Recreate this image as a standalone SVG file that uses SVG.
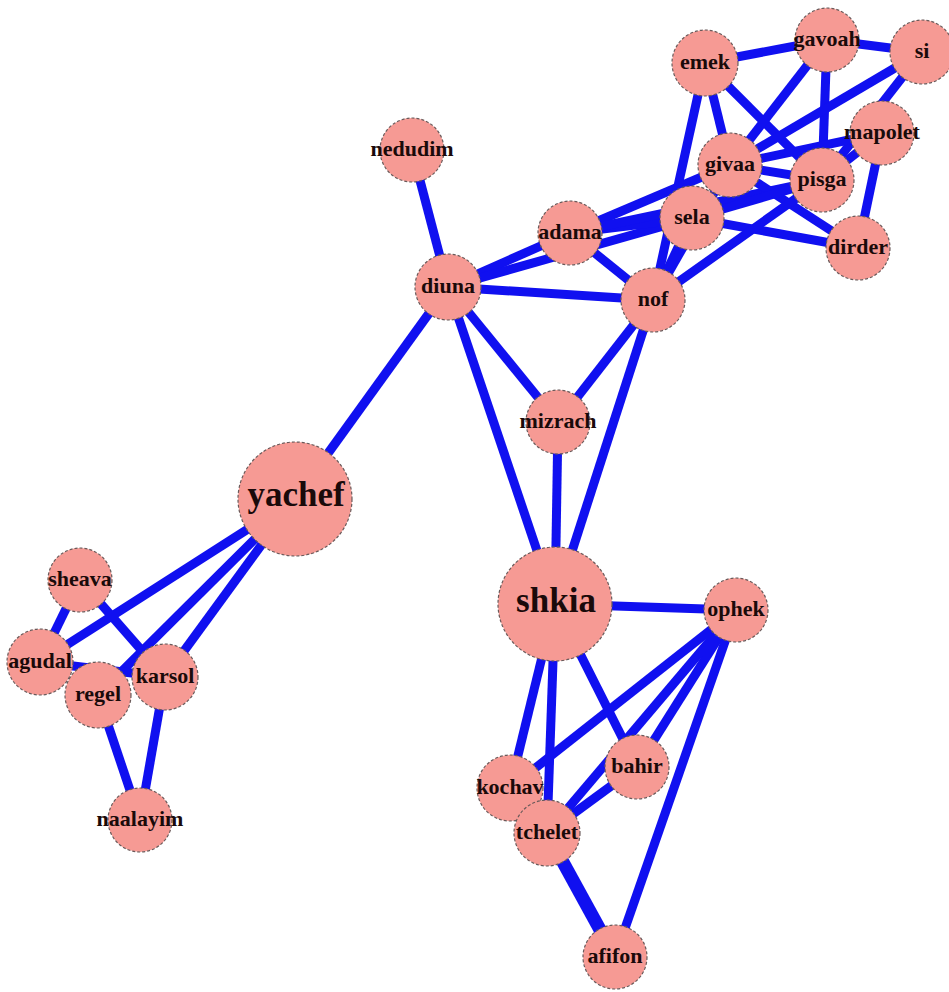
<svg xmlns="http://www.w3.org/2000/svg" width="949" height="992" viewBox="0 0 949 992">
<style>
.e{stroke:#1010f0;stroke-width:9;fill:none}
.w{stroke-width:13}
.n circle{fill:#f69a94;stroke:#6a5a5a;stroke-width:1.2;stroke-dasharray:3 2}
.n text{font-family:"Liberation Serif",serif;font-weight:bold;font-size:22px;fill:#1a0a0a;text-anchor:middle}
.n.big text{font-size:35px}
</style>
<rect width="949" height="992" fill="#ffffff"/>
<g id="edges">
<line class="e" x1="412" y1="150" x2="448" y2="287"/>
<line class="e" x1="448" y1="287" x2="295" y2="499"/>
<line class="e" x1="448" y1="287" x2="570" y2="233"/>
<line class="e" x1="448" y1="287" x2="692" y2="218"/>
<line class="e" x1="448" y1="287" x2="653" y2="300"/>
<line class="e" x1="448" y1="287" x2="558" y2="422"/>
<line class="e" x1="448" y1="287" x2="555" y2="604"/>
<line class="e" x1="653" y1="300" x2="558" y2="422"/>
<line class="e" x1="653" y1="300" x2="555" y2="604"/>
<line class="e" x1="558" y1="422" x2="555" y2="604"/>
<line class="e" x1="570" y1="233" x2="653" y2="300"/>
<line class="e" x1="570" y1="233" x2="730" y2="165"/>
<line class="e" x1="570" y1="233" x2="692" y2="218"/>
<line class="e" x1="570" y1="233" x2="822" y2="180"/>
<line class="e" x1="705" y1="63" x2="827" y2="40"/>
<line class="e" x1="827" y1="40" x2="922" y2="52"/>
<line class="e" x1="705" y1="63" x2="730" y2="165"/>
<line class="e" x1="705" y1="63" x2="653" y2="300"/>
<line class="e" x1="705" y1="63" x2="822" y2="180"/>
<line class="e" x1="827" y1="40" x2="730" y2="165"/>
<line class="e" x1="827" y1="40" x2="822" y2="180"/>
<line class="e" x1="922" y1="52" x2="730" y2="165"/>
<line class="e" x1="922" y1="52" x2="822" y2="180"/>
<line class="e" x1="730" y1="165" x2="882" y2="133"/>
<line class="e" x1="730" y1="165" x2="822" y2="180"/>
<line class="e" x1="730" y1="165" x2="858" y2="248"/>
<line class="e" x1="692" y1="218" x2="822" y2="180"/>
<line class="e" x1="692" y1="218" x2="858" y2="248"/>
<line class="e" x1="692" y1="218" x2="653" y2="300"/>
<line class="e" x1="653" y1="300" x2="730" y2="165"/>
<line class="e" x1="653" y1="300" x2="822" y2="180"/>
<line class="e" x1="882" y1="133" x2="858" y2="248"/>
<line class="e" x1="882" y1="133" x2="822" y2="180"/>
<line class="e" x1="295" y1="499" x2="40" y2="662"/>
<line class="e" x1="295" y1="499" x2="98" y2="695"/>
<line class="e" x1="295" y1="499" x2="165" y2="677"/>
<line class="e" x1="80" y1="580" x2="40" y2="662"/>
<line class="e" x1="80" y1="580" x2="165" y2="677"/>
<line class="e" x1="40" y1="662" x2="165" y2="677"/>
<line class="e" x1="98" y1="695" x2="140" y2="820"/>
<line class="e" x1="165" y1="677" x2="140" y2="820"/>
<line class="e" x1="555" y1="604" x2="736" y2="610"/>
<line class="e" x1="555" y1="604" x2="510" y2="788"/>
<line class="e" x1="555" y1="604" x2="547" y2="833"/>
<line class="e" x1="555" y1="604" x2="637" y2="767"/>
<line class="e" x1="736" y1="610" x2="510" y2="788"/>
<line class="e" x1="736" y1="610" x2="637" y2="767"/>
<line class="e" x1="736" y1="610" x2="547" y2="833"/>
<line class="e" x1="736" y1="610" x2="615" y2="957"/>
<line class="e" x1="637" y1="767" x2="547" y2="833"/>
<line class="e" x1="510" y1="788" x2="547" y2="833"/>
<line class="e w" x1="547" y1="833" x2="615" y2="957"/>
</g>
<g id="n-nedudim" class="n"><circle cx="412" cy="150" r="32"/><text x="412" y="156">nedudim</text></g>
<g id="n-diuna" class="n"><circle cx="448" cy="287" r="33"/><text x="448" y="293">diuna</text></g>
<g id="n-adama" class="n"><circle cx="570" cy="233" r="32"/><text x="570" y="239">adama</text></g>
<g id="n-nof" class="n"><circle cx="653" cy="300" r="32"/><text x="653" y="306">nof</text></g>
<g id="n-mizrach" class="n"><circle cx="558" cy="422" r="32"/><text x="558" y="428">mizrach</text></g>
<g id="n-emek" class="n"><circle cx="705" cy="63" r="33"/><text x="705" y="69">emek</text></g>
<g id="n-gavoah" class="n"><circle cx="827" cy="40" r="32"/><text x="827" y="46">gavoah</text></g>
<g id="n-si" class="n"><circle cx="922" cy="52" r="32"/><text x="922" y="58">si</text></g>
<g id="n-mapolet" class="n"><circle cx="882" cy="133" r="32"/><text x="882" y="139">mapolet</text></g>
<g id="n-givaa" class="n"><circle cx="730" cy="165" r="32"/><text x="730" y="171">givaa</text></g>
<g id="n-pisga" class="n"><circle cx="822" cy="180" r="32"/><text x="822" y="186">pisga</text></g>
<g id="n-sela" class="n"><circle cx="692" cy="218" r="32"/><text x="692" y="224">sela</text></g>
<g id="n-dirder" class="n"><circle cx="858" cy="248" r="32"/><text x="858" y="254">dirder</text></g>
<g id="n-yachef" class="n big"><circle cx="295" cy="499" r="57"/><text x="296" y="506">yachef</text></g>
<g id="n-shkia" class="n big"><circle cx="555" cy="604" r="57"/><text x="556" y="612">shkia</text></g>
<g id="n-ophek" class="n"><circle cx="736" cy="610" r="32"/><text x="736" y="616">ophek</text></g>
<g id="n-bahir" class="n"><circle cx="637" cy="767" r="32"/><text x="637" y="773">bahir</text></g>
<g id="n-kochav" class="n"><circle cx="510" cy="788" r="33"/><text x="510" y="794">kochav</text></g>
<g id="n-tchelet" class="n"><circle cx="547" cy="833" r="33"/><text x="547" y="839">tchelet</text></g>
<g id="n-afifon" class="n"><circle cx="615" cy="957" r="32"/><text x="615" y="963">afifon</text></g>
<g id="n-sheava" class="n"><circle cx="80" cy="580" r="32"/><text x="80" y="586">sheava</text></g>
<g id="n-agudal" class="n"><circle cx="40" cy="662" r="33"/><text x="40" y="668">agudal</text></g>
<g id="n-regel" class="n"><circle cx="98" cy="695" r="33"/><text x="98" y="701">regel</text></g>
<g id="n-karsol" class="n"><circle cx="165" cy="677" r="33"/><text x="165" y="683">karsol</text></g>
<g id="n-naalayim" class="n"><circle cx="140" cy="820" r="32"/><text x="140" y="826">naalayim</text></g>
</svg>
